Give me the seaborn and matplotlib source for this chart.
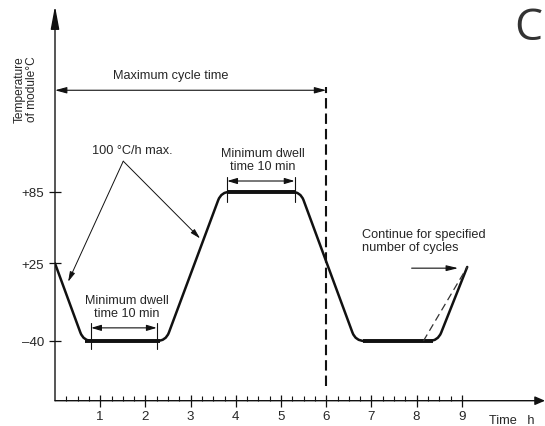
import numpy as np
import matplotlib
matplotlib.use("Agg")
import matplotlib.pyplot as plt
import seaborn as sns
from matplotlib.path import Path
from matplotlib.patches import PathPatch

# temperature profile corners (hours, deg C)
profile_time = [0, 0.63, 2.45, 3.68, 5.43, 6.65, 8.47, 9.12]
profile_temp = [25, -40, -40, 85, 85, -40, -40, 22]

# bold dwell plateaus
dwell_start = [0.66, 3.80, 6.82]
dwell_end = [2.32, 5.30, 8.36]
dwell_temp = [-40, 85, -40]

# dashed start of the next cycle
next_time = [8.15, 9.12]
next_temp = [-40, 22]

# "minimum dwell" markers
marker_left = [0.80, 3.81]
marker_right = [2.25, 5.30]
marker_level = [-29, 94]
marker_lo = [-47, 76]
marker_hi = [-25, 97]
marker_text_x = [1.585, 4.59]
marker_text_y = [-11.3, 111.8]

# maximum cycle time
cycle_end = 6.0
cycle_level = 170
cycle_dash = [-78, 173]

# 100 C/h callout
rate_apex = (1.51, 110.6)
rate_tips = [(0.29, 9.6), (3.21, 45.9)]

# continue arrow
cont_from = (7.89, 21)
cont_to = (8.92, 21)

ytick_values = [85, 25, -40]
ytick_labels = ["+85", "+25", "\u201340"]
xtick_values = [1, 2, 3, 4, 5, 6, 7, 8, 9]
xtick_labels = ["1", "2", "3", "4", "5", "6", "7", "8", "9"]

sns.set_theme(style="white")
plt.rcParams["font.family"] = ["Liberation Sans", "DejaVu Sans"]

INK = "#111111"
TXT = "#262626"

fig = plt.figure(figsize=(5.45, 4.27), dpi=100)
ax = fig.add_axes([55 / 545, (427 - 401.7) / 427, 490 / 545, (401.7 - 7) / 427])
ax.set_xlim(0, 490 / 45.2)
ax.set_ylim(-90, -90 + 394.7 / 1.194)
for s in ax.spines.values():
    s.set_visible(False)
ax.patch.set_alpha(0)


def arrow(a, b, style="-|>", hl=6, hw=1.8, lw=0.8):
    ax.annotate("", xy=b, xytext=a, annotation_clip=False,
                arrowprops=dict(arrowstyle=f"{style},head_length={hl},head_width={hw}",
                                mutation_scale=1, lw=lw, color=INK,
                                shrinkA=0, shrinkB=0))


# axes with arrow heads
x0, x1 = ax.get_xlim()
y0, y1 = ax.get_ylim()
arrow((0, y0), (x1, y0), hl=6, hw=2.6, lw=1.0)
arrow((0, y0), (0, y1), hl=14, hw=2.6, lw=1.0)

# ticks
ax.set_xticks(xtick_values, xtick_labels)
minor = [v for v in np.arange(0.25, 9, 0.25) if v % 1]
ax.set_xticks(minor, minor=True)
ax.set_yticks(ytick_values, ytick_labels)
ax.tick_params(axis="x", which="major", direction="inout", length=8, width=0.9,
               bottom=True, color=INK, labelsize=9.6, labelcolor=TXT, pad=3)
ax.tick_params(axis="x", which="minor", direction="in", length=3.3, width=0.8,
               bottom=True, color=INK)
ax.tick_params(axis="y", which="major", direction="inout", length=8, width=0.9,
               left=True, color=INK, labelsize=9.6, labelcolor=TXT, pad=4)


# profile with rounded corners
def rounded_path(xs, ys, r=9):
    pts = ax.transData.transform(np.column_stack([xs, ys]))
    verts = [pts[0]]
    codes = [Path.MOVETO]
    for i in range(1, len(pts) - 1):
        p, c, n = pts[i - 1], pts[i], pts[i + 1]
        a = c + (p - c) / np.linalg.norm(p - c) * r
        b = c + (n - c) / np.linalg.norm(n - c) * r
        verts += [a, c, b]
        codes += [Path.LINETO, Path.CURVE3, Path.CURVE3]
    verts.append(pts[-1])
    codes.append(Path.LINETO)
    return Path(ax.transData.inverted().transform(np.array(verts)), codes)


ax.add_patch(PathPatch(rounded_path(profile_time, profile_temp), fill=False,
                       lw=1.8, edgecolor=INK, capstyle="round", joinstyle="round"))

for xa, xb, t in zip(dwell_start, dwell_end, dwell_temp):
    sns.lineplot(x=[xa, xb], y=[t, t], ax=ax, color=INK, lw=2.8,
                 solid_capstyle="butt")

sns.lineplot(x=next_time, y=next_temp, ax=ax, color="#333333", lw=0.9,
             dashes=False, linestyle=(0, (6, 3.5)))

# end of cycle dashed line
ax.plot([cycle_end, cycle_end], cycle_dash, color=INK, lw=1.5,
        linestyle=(0, (5, 2.4)))
arrow((0, cycle_level), (cycle_end, cycle_level), style="<|-|>", hl=7, hw=1.9, lw=0.8)
ax.text(2.57, 182.5, "Maximum cycle time", ha="center", va="center",
        fontsize=9.2, color=TXT)

# dwell markers
for xl, xr, lv, lo, hi, tx, ty in zip(marker_left, marker_right, marker_level,
                                      marker_lo, marker_hi, marker_text_x, marker_text_y):
    ax.plot([xl, xl], [lo, hi], color=INK, lw=0.8)
    ax.plot([xr, xr], [lo, hi], color=INK, lw=0.8)
    arrow((xl, lv), (xr, lv), style="<|-|>", hl=6, hw=1.8, lw=0.8)
    ax.text(tx, ty, "Minimum dwell\ntime 10 min", ha="center", va="center",
            fontsize=9.1, color=TXT, linespacing=1.15)

# ramp callout
for tip in rate_tips:
    arrow(rate_apex, tip, hl=6, hw=1.6, lw=0.7)
ax.text(1.71, 119.8, "100 \u00b0C/h max.", ha="center", va="center",
        fontsize=9.2, color=TXT)

# continue note
arrow(cont_from, cont_to, hl=7, hw=1.7, lw=0.8)
ax.text(6.79, 43.8, "Continue for specified\nnumber of cycles", ha="left",
        va="center", fontsize=9.2, color=TXT, linespacing=1.1)

# axis titles
ax.text(-0.64, 171.5, "Temperature\nof module\u00b0C", rotation=90, ha="center",
        va="center", fontsize=8.6, color=TXT, linespacing=1.05, clip_on=False)
ax.text(9.6, -105.8, "Time   h", ha="left", va="center", fontsize=9.2,
        color=TXT, clip_on=False)

# stray letter at the top right corner of the source image
fig.text(514 / 545, 1 - 40 / 427, "C", ha="left", va="baseline", fontsize=32,
         color="#333333", family=["Open Sans", "DejaVu Sans"])

fig.savefig("out.png", dpi=100)
